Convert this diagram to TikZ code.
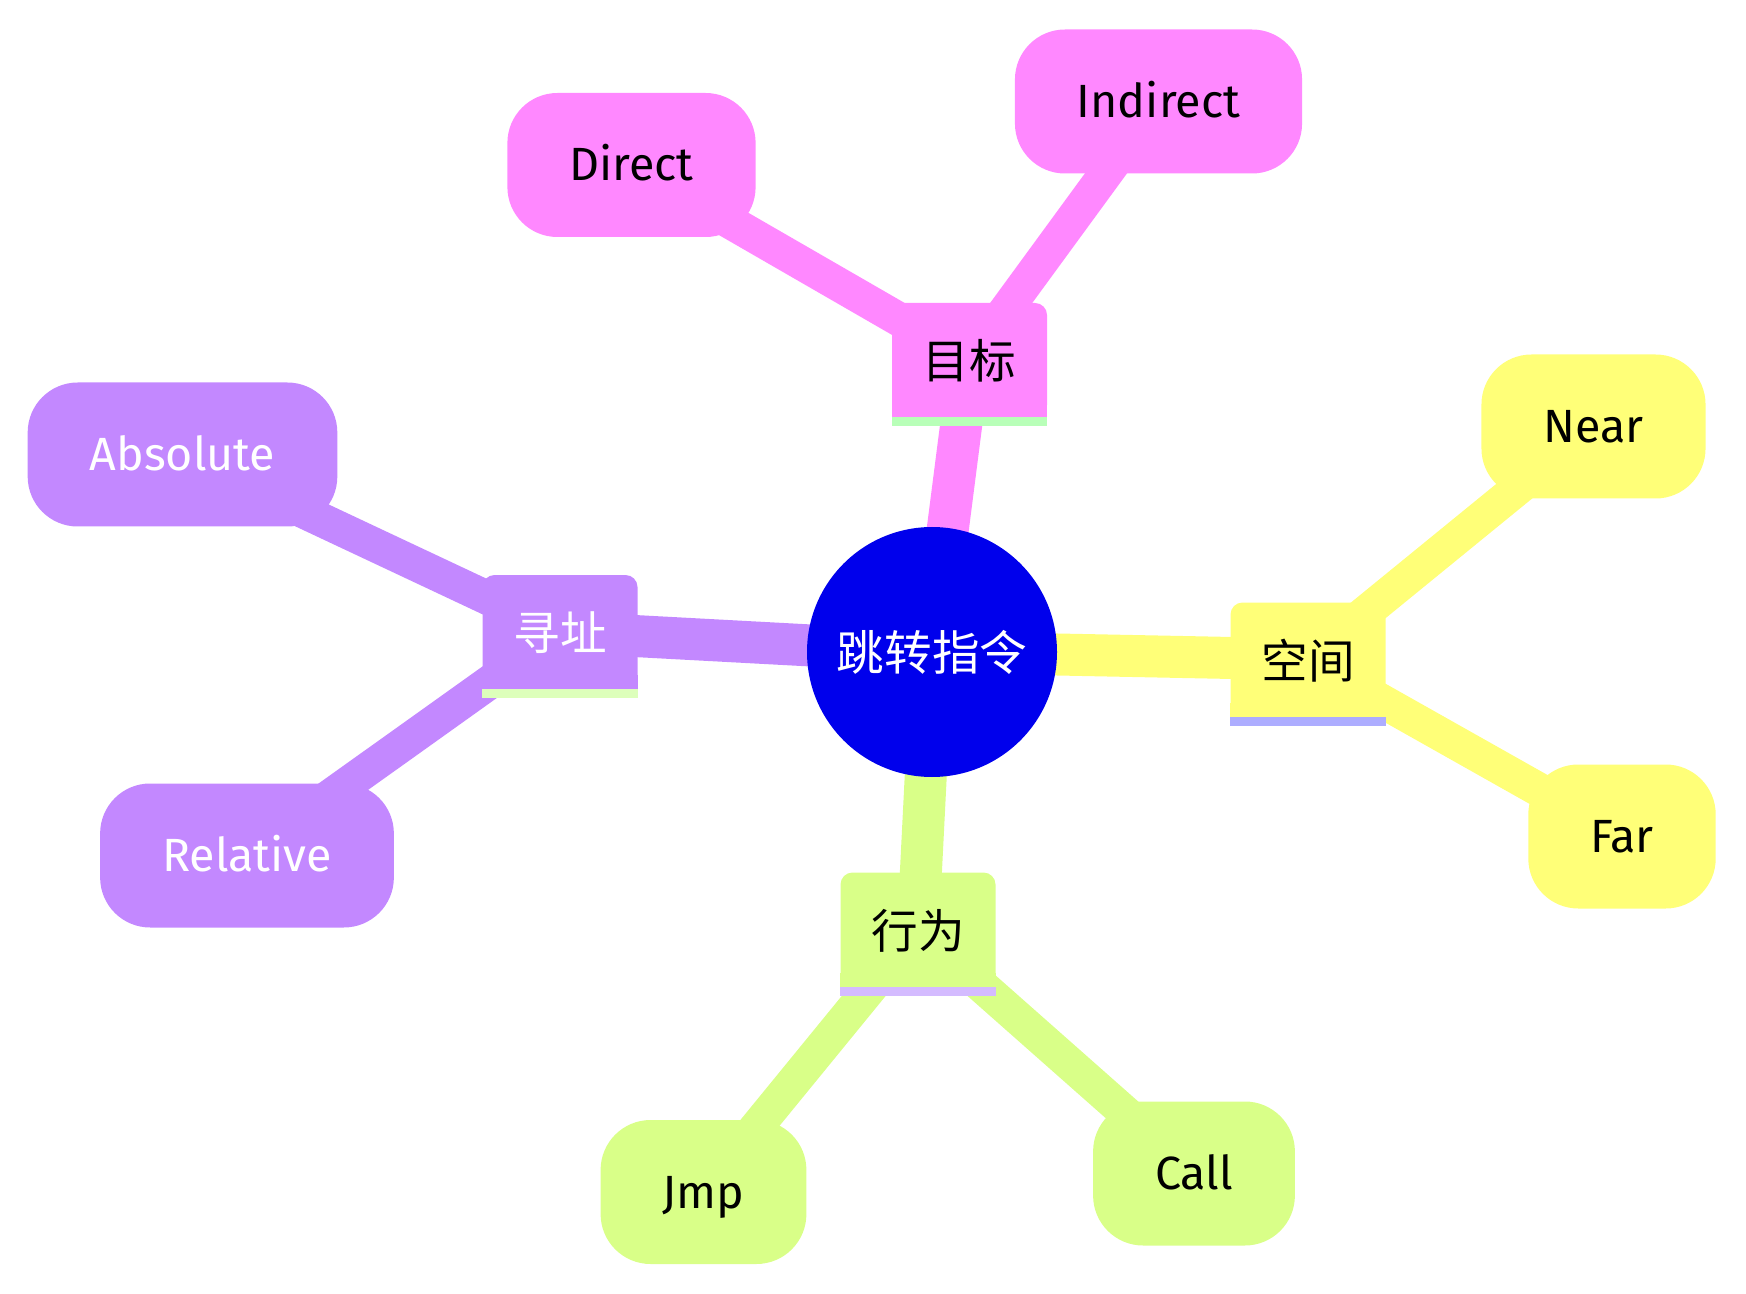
\documentclass[tikz,border=0pt]{standalone}
\usepackage{fontspec}
\setmainfont{Fira Sans}
\newfontfamily\cjk{Noto Sans CJK SC}
\usetikzlibrary{backgrounds}

\definecolor{rootblue}{HTML}{0000EC}
\definecolor{tgtpink}{HTML}{FF88FF}
\definecolor{addrpurple}{HTML}{C388FF}
\definecolor{spaceyellow}{HTML}{FFFF78}
\definecolor{actgreen}{HTML}{D9FF88}
\definecolor{tgtline}{HTML}{B8FFB8}
\definecolor{addrline}{HTML}{DDFFBB}
\definecolor{spaceline}{HTML}{ADADFF}
\definecolor{actline}{HTML}{D4BBFF}

\tikzset{
  leaf/.style={rectangle, rounded corners=25pt, minimum height=72pt, inner xsep=31pt,
    text height=16pt, text depth=0pt, font=\fontsize{23.3}{28}\selectfont},
  sect/.style={rectangle, rounded corners=6pt, minimum width=77.5pt, minimum height=57pt,
    inner sep=0pt, text height=19pt, text depth=0.3pt, font=\cjk\fontsize{23.3}{28}\selectfont},
  trunk/.style={line width=21pt},
  twig/.style={line width=17pt}
}

\begin{document}
\begin{tikzpicture}[x=0.5pt,y=-0.5pt]
\useasboundingbox (0,0) rectangle (1746,1294);

% root
\node[circle, fill=rootblue, minimum size=125pt, inner sep=0pt, text=white,
  font=\cjk\fontsize{23.8}{28}\selectfont] (root) at (932,652) {跳转指令};

% sections
\node[sect, fill=tgtpink] (tgt) at (969.5,360) {目标};
\fill[tgtpink] ([yshift=7pt]tgt.south west) rectangle (tgt.south east);
\fill[tgtline] (tgt.south west) rectangle ([yshift=-4.5pt]tgt.south east);

\node[sect, fill=addrpurple, text=white] (addr) at (560,632) {寻址};
\fill[addrpurple] ([yshift=7pt]addr.south west) rectangle (addr.south east);
\fill[addrline] (addr.south west) rectangle ([yshift=-4.5pt]addr.south east);

\node[sect, fill=spaceyellow] (space) at (1308,659.5) {空间};
\fill[spaceyellow] ([yshift=7pt]space.south west) rectangle (space.south east);
\fill[spaceline] (space.south west) rectangle ([yshift=-4.5pt]space.south east);

\node[sect, fill=actgreen] (act) at (918,929.5) {行为};
\fill[actgreen] ([yshift=7pt]act.south west) rectangle (act.south east);
\fill[actline] (act.south west) rectangle ([yshift=-4.5pt]act.south east);

% leaves
\node[leaf, fill=tgtpink] (direct) at (631.5,165) {Direct};
\node[leaf, fill=tgtpink] (indirect) at (1158.5,101.5) {Indirect};
\node[leaf, fill=addrpurple, text=white] (absolute) at (182.5,454.5) {Absolute};
\node[leaf, fill=addrpurple, text=white] (relative) at (247,855.5) {Relative};
\node[leaf, fill=spaceyellow] (near) at (1593.5,426.5) {Near};
\node[leaf, fill=spaceyellow] (far) at (1622,836.5) {Far};
\node[leaf, fill=actgreen] (jmp) at (703.5,1192) {Jmp};
\node[leaf, fill=actgreen] (call) at (1194,1173.5) {Call};

% edges
\begin{pgfonlayer}{background}
\draw[trunk, tgtpink] (root.center) -- (tgt.center);
\draw[trunk, addrpurple] (root.center) -- (addr.center);
\draw[trunk, spaceyellow] (root.center) -- (space.center);
\draw[trunk, actgreen] (root.center) -- (act.center);
\draw[twig, tgtpink] (tgt.center) -- (direct.center);
\draw[twig, tgtpink] (tgt.center) -- (indirect.center);
\draw[twig, addrpurple] (addr.center) -- (absolute.center);
\draw[twig, addrpurple] (addr.center) -- (relative.center);
\draw[twig, spaceyellow] (space.center) -- (near.center);
\draw[twig, spaceyellow] (space.center) -- (far.center);
\draw[twig, actgreen] (act.center) -- (jmp.center);
\draw[twig, actgreen] (act.center) -- (call.center);
\end{pgfonlayer}
\end{tikzpicture}
\end{document}
